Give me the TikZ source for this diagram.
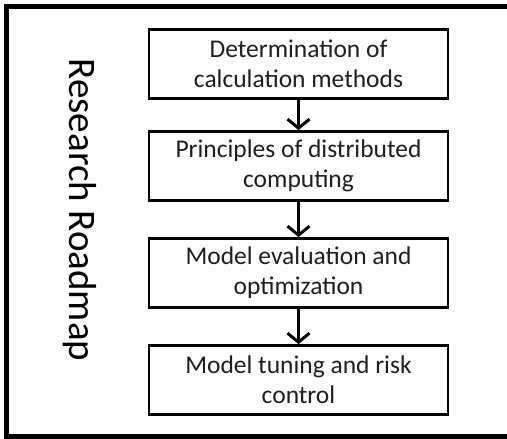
\documentclass[tikz,border=0pt]{standalone}
\usepackage{fontspec}
\setmainfont{Carlito}
\usetikzlibrary{arrows.meta}
\tikzset{
  stepbox/.style={draw=black, line width=2.8pt, rectangle, minimum width=299pt, minimum height=69pt, align=center, inner sep=0pt, font=\fontsize{25.5}{30}\selectfont, text=black!88},
  flowarrow/.style={line width=3pt, -{Straight Barb[length=9pt,width=22pt,line width=3pt]}},
}
\begin{document}
\begin{tikzpicture}[x=1pt,y=-1pt]
  \useasboundingbox (0,0) rectangle (507,439);
  \fill[white] (0,0) rectangle (507,439);
  \draw[line width=5.5pt] (6.5,6.5) rectangle (509.5,436.5);
  \node[rotate=-90, font=\fontsize{39}{44}\selectfont] (title) at (80,210) {Research Roadmap};
  \node[stepbox] (b1) at (298.5,64) {Determination of\\calculation methods};
  \node[stepbox] (b2) at (298.5,166) {Principles of distributed\\computing};
  \node[stepbox] (b3) at (298.5,273) {Model evaluation and\\optimization};
  \node[stepbox] (b4) at (298.5,380) {Model tuning and risk\\control};
  \draw[flowarrow] (b1) -- (b2);
  \draw[flowarrow] (b2) -- (b3);
  \draw[flowarrow] (b3) -- (b4);
\end{tikzpicture}
\end{document}
